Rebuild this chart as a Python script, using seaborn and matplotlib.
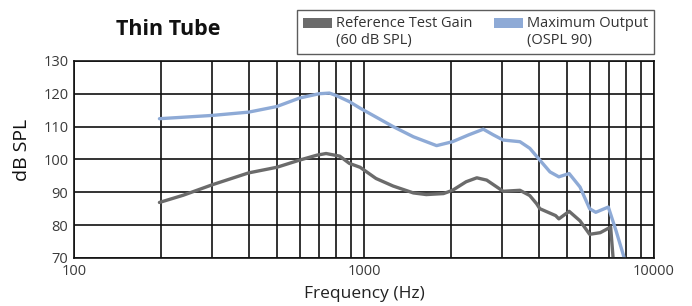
import numpy as np
import pandas as pd
import seaborn as sns
import matplotlib.pyplot as plt
from matplotlib.patches import Patch, Rectangle
from matplotlib.legend_handler import HandlerPatch
from matplotlib.ticker import FixedLocator, NullFormatter

# Reference Test Gain (60 dB SPL)
gain_freq = [197, 238, 300, 400, 500, 600, 688, 740, 825, 890, 970, 1100, 1260, 1480,
             1640, 1880, 2020, 2250, 2450, 2650, 3020, 3450, 3730, 3940, 4040, 4580,
             4700, 5100, 5560, 6000, 6530, 7090, 7230]
gain_db = [86.9, 89.1, 92.3, 95.9, 97.6, 99.8, 101.3, 101.8, 101.0, 98.8, 97.6, 94.2, 91.9, 89.8,
           89.3, 89.6, 90.6, 93.2, 94.4, 93.7, 90.3, 90.6, 89.0, 86.5, 85.0, 82.9,
           81.9, 84.2, 81.3, 77.2, 77.7, 79.4, 70.0]

# Maximum Output (OSPL 90)
mpo_freq = [197, 300, 400, 500, 600, 700, 760, 800, 890, 970, 1260, 1480, 1780,
            2020, 2300, 2580, 2790, 3020, 3450, 3730, 4040, 4380, 4700, 5100, 5560,
            6000, 6300, 6960, 7400, 7900]
mpo_db = [112.4, 113.4, 114.4, 116.1, 118.7, 120.0, 120.2, 119.5, 117.6, 115.6, 110.0, 106.9, 104.2,
          105.4, 107.5, 109.2, 107.5, 105.9, 105.4, 103.4, 99.8, 96.2, 94.7, 95.7, 91.6,
          85.0, 83.9, 85.5, 78.3, 70.0]

labels = ['Reference Test Gain\n(60 dB SPL)', 'Maximum Output\n(OSPL 90)']
colors = ['#6b6b6b', '#8eaad6']

df = pd.concat([
    pd.DataFrame({'freq': gain_freq, 'db': gain_db, 'series': labels[0]}),
    pd.DataFrame({'freq': mpo_freq, 'db': mpo_db, 'series': labels[1]}),
])

sns.set_style('white')
plt.rcParams['font.family'] = ['Open Sans', 'DejaVu Sans']

fig = plt.figure(figsize=(6.92, 3.06), dpi=100)
ax = fig.add_axes([0.107, 0.157, 0.838, 0.644])

sns.lineplot(data=df, x='freq', y='db', hue='series', palette=colors,
             linewidth=2.4, sort=False, legend=False, ax=ax)

ax.set_xscale('log')
ax.set_xlim(100, 10000)
ax.set_ylim(70, 130)
ax.set_yticks(np.arange(70, 131, 10))
ax.xaxis.set_major_locator(FixedLocator([100, 1000, 10000]))
ax.xaxis.set_minor_locator(FixedLocator([k * d for d in (100, 1000) for k in range(2, 10)]))
ax.xaxis.set_minor_formatter(NullFormatter())
ax.set_xticklabels(['100', '1000', '10000'])

ax.grid(True, which='both', axis='x', color='#111111', linewidth=1.2)
ax.grid(True, which='major', axis='y', color='#111111', linewidth=1.2)
for s in ax.spines.values():
    s.set_color('#111111')
    s.set_linewidth(1.2)

ax.tick_params(axis='both', which='major', width=1.0, color='#111111',
               labelsize=10.5, labelcolor='#3a3a3a')
ax.tick_params(axis='x', which='minor', length=0)
ax.tick_params(axis='x', which='major', direction='inout', length=6, pad=1.5)
ax.tick_params(axis='y', which='major', direction='inout', length=6, pad=1)

ax.set_xlabel('Frequency (Hz)', fontsize=12.5, color='#222222', labelpad=5)
ax.set_ylabel('dB SPL', fontsize=14, color='#111111')
ax.yaxis.set_label_coords(-0.074, 0.55)

fig.text(0.243, 0.905, 'Thin Tube', fontsize=15.5, fontweight='bold',
         color='#111111', ha='center', va='center')


def top_patch(legend, orig_handle, xdescent, ydescent, width, height, fontsize):
    # put the colour swatch beside the first line of the two-line label
    return Rectangle((-xdescent, -ydescent + 0.62 * fontsize), width, height)


handles = [Patch(facecolor=c, edgecolor='none') for c in colors]
leg = fig.legend(handles, labels, ncol=2, loc='upper right',
                 bbox_to_anchor=(0.955, 0.99), frameon=True, fancybox=False,
                 fontsize=10.5, handlelength=2.0, handleheight=0.65,
                 handletextpad=0.25, columnspacing=1.5, borderpad=0.38,
                 labelspacing=0.2, labelcolor='#333333',
                 handler_map={Patch: HandlerPatch(patch_func=top_patch)})
leg.get_frame().set_edgecolor('#333333')
leg.get_frame().set_linewidth(1.0)

fig.savefig('out.png', dpi=100)
